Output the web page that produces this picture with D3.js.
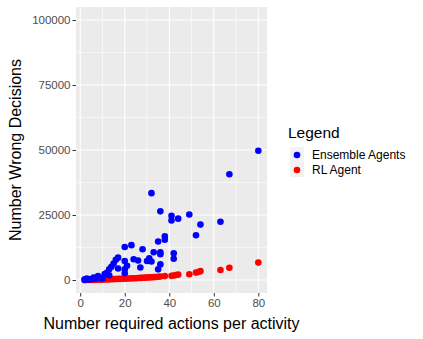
<!DOCTYPE html>
<meta charset="utf-8">
<style>
  body { margin: 0; background: #fff; }
  text { font-family: "Liberation Sans", Arial, sans-serif; }
  .tick text { fill: #4d4d4d; font-size: 11.5px; }
  .tick line { stroke: #333; }
</style>
<body>
<svg id="chart" width="423" height="339"></svg>
<script src="https://d3js.org/d3.v7.min.js"></script>
<script>

// blue: ensemble agents  [actions, wrong decisions]
var ensemble = [
  [2, 0], [2, 300], [3, 600], [4, 200], [5, 400], [6, 900], [7, 500], [8, 1500],
  [9, 800], [10, 600], [11, 2300], [12, 2800], [13, 1800], [13, 4100], [14, 5100],
  [15, 6300], [16, 7800], [17, 8600], [17, 4400], [20, 4100], [20, 2600], [20, 7300],
  [20, 12700], [21, 5500], [23, 13400], [24, 8000], [26, 7500], [27, 4800], [28, 11800],
  [30, 7300], [31, 8300], [32, 7100], [32, 33400], [33, 10700], [35, 14800], [35, 4100],
  [36, 6000], [36, 26400], [36, 10700], [36, 9900], [38, 16800], [38, 15500], [41, 24700],
  [41, 22900], [42, 10300], [42, 8200], [44, 23600], [49, 25200], [52, 17200], [54, 21300],
  [63, 22400], [67, 40700], [80, 49700]
];

// red: RL agent
var rlAgent = [
  [2, 0], [3, 10], [4, 20], [5, 30], [6, 60], [7, 80], [8, 100], [9, 120], [10, 150],
  [11, 200], [12, 220], [13, 250], [14, 300], [15, 330], [16, 380], [17, 420], [18, 450],
  [19, 500], [20, 520], [21, 560], [22, 600], [23, 640], [24, 680], [25, 700], [26, 760],
  [27, 800], [28, 850], [29, 900], [30, 950], [31, 1000], [32, 1050], [33, 1100], [34, 1150],
  [35, 1250], [36, 1350], [38, 1500], [41, 1600], [42, 1750], [43, 1900], [44, 2050],
  [49, 2200], [52, 2850], [53, 3100], [54, 3400], [63, 3850], [67, 4700], [80, 6700]
];

var xTicks = [0, 20, 40, 60, 80];
var yTicks = [0, 25000, 50000, 75000, 100000];
var legendLabels = ["Ensemble Agents", "RL Agent"];
var colors = ["#0000ff", "#ff0000"];

var svg = d3.select("#chart");
var panel = {left: 76, right: 267, top: 7, bottom: 293};

var x = d3.scaleLinear().domain([-1.9, 83.9]).range([panel.left, panel.right]);
var y = d3.scaleLinear().domain([-5000, 105000]).range([panel.bottom, panel.top]);

svg.append("rect")
  .attr("x", panel.left).attr("y", panel.top)
  .attr("width", panel.right - panel.left).attr("height", panel.bottom - panel.top)
  .attr("fill", "#ebebeb");

// minor grid
var xMinor = [10, 30, 50, 70];
var yMinor = [12500, 37500, 62500, 87500];
svg.selectAll(".xminor").data(xMinor).enter().append("line")
  .attr("x1", d => x(d)).attr("x2", d => x(d))
  .attr("y1", panel.top).attr("y2", panel.bottom)
  .attr("stroke", "#fff").attr("stroke-width", 0.55);
svg.selectAll(".yminor").data(yMinor).enter().append("line")
  .attr("y1", d => y(d)).attr("y2", d => y(d))
  .attr("x1", panel.left).attr("x2", panel.right)
  .attr("stroke", "#fff").attr("stroke-width", 0.55);

// major grid
svg.selectAll(".xmajor").data(xTicks).enter().append("line")
  .attr("x1", d => x(d)).attr("x2", d => x(d))
  .attr("y1", panel.top).attr("y2", panel.bottom)
  .attr("stroke", "#fff").attr("stroke-width", 1.1);
svg.selectAll(".ymajor").data(yTicks).enter().append("line")
  .attr("y1", d => y(d)).attr("y2", d => y(d))
  .attr("x1", panel.left).attr("x2", panel.right)
  .attr("stroke", "#fff").attr("stroke-width", 1.1);

// axes
svg.append("g")
  .attr("transform", "translate(0," + panel.bottom + ")")
  .call(d3.axisBottom(x).tickValues(xTicks).tickSize(3.5).tickPadding(2).tickFormat(d3.format("d")));
svg.append("g")
  .attr("transform", "translate(" + panel.left + ",0)")
  .call(d3.axisLeft(y).tickValues(yTicks).tickSize(3.5).tickPadding(2).tickFormat(d3.format("d")));
svg.selectAll(".domain").remove();
svg.selectAll(".tick line").attr("stroke", "#333");

// points (red underneath, blue on top)
svg.append("g").selectAll("circle").data(rlAgent).enter().append("circle")
  .attr("cx", d => x(d[0])).attr("cy", d => y(d[1])).attr("r", 3.3)
  .attr("fill", colors[1]);
svg.append("g").selectAll("circle").data(ensemble).enter().append("circle")
  .attr("cx", d => x(d[0])).attr("cy", d => y(d[1])).attr("r", 3.3)
  .attr("fill", colors[0]);

// axis titles
svg.append("text")
  .attr("x", (panel.left + panel.right) / 2).attr("y", 329)
  .attr("text-anchor", "middle").attr("font-size", 16).attr("fill", "#000")
  .text("Number required actions per activity");
svg.append("text")
  .attr("transform", "translate(21," + (panel.top + panel.bottom) / 2 + ") rotate(-90)")
  .attr("text-anchor", "middle").attr("font-size", 16).attr("fill", "#000")
  .text("Number Wrong Decisions");

// legend
var lg = svg.append("g").attr("transform", "translate(288,0)");
lg.append("text").attr("x", 0).attr("y", 138).attr("font-size", 15.5).text("Legend");
var items = lg.selectAll(".item").data(legendLabels).enter().append("g")
  .attr("transform", (d, i) => "translate(0," + (147 + i * 15) + ")");
items.append("rect").attr("x", 2).attr("y", 0).attr("width", 14).attr("height", 15)
  .attr("fill", "#f2f2f2");
items.append("circle").attr("cx", 9).attr("cy", 8).attr("r", 3.3)
  .attr("fill", (d, i) => colors[i]);
items.append("text").attr("x", 24).attr("y", 12).attr("font-size", 12).text(d => d);

</script>
</body>
